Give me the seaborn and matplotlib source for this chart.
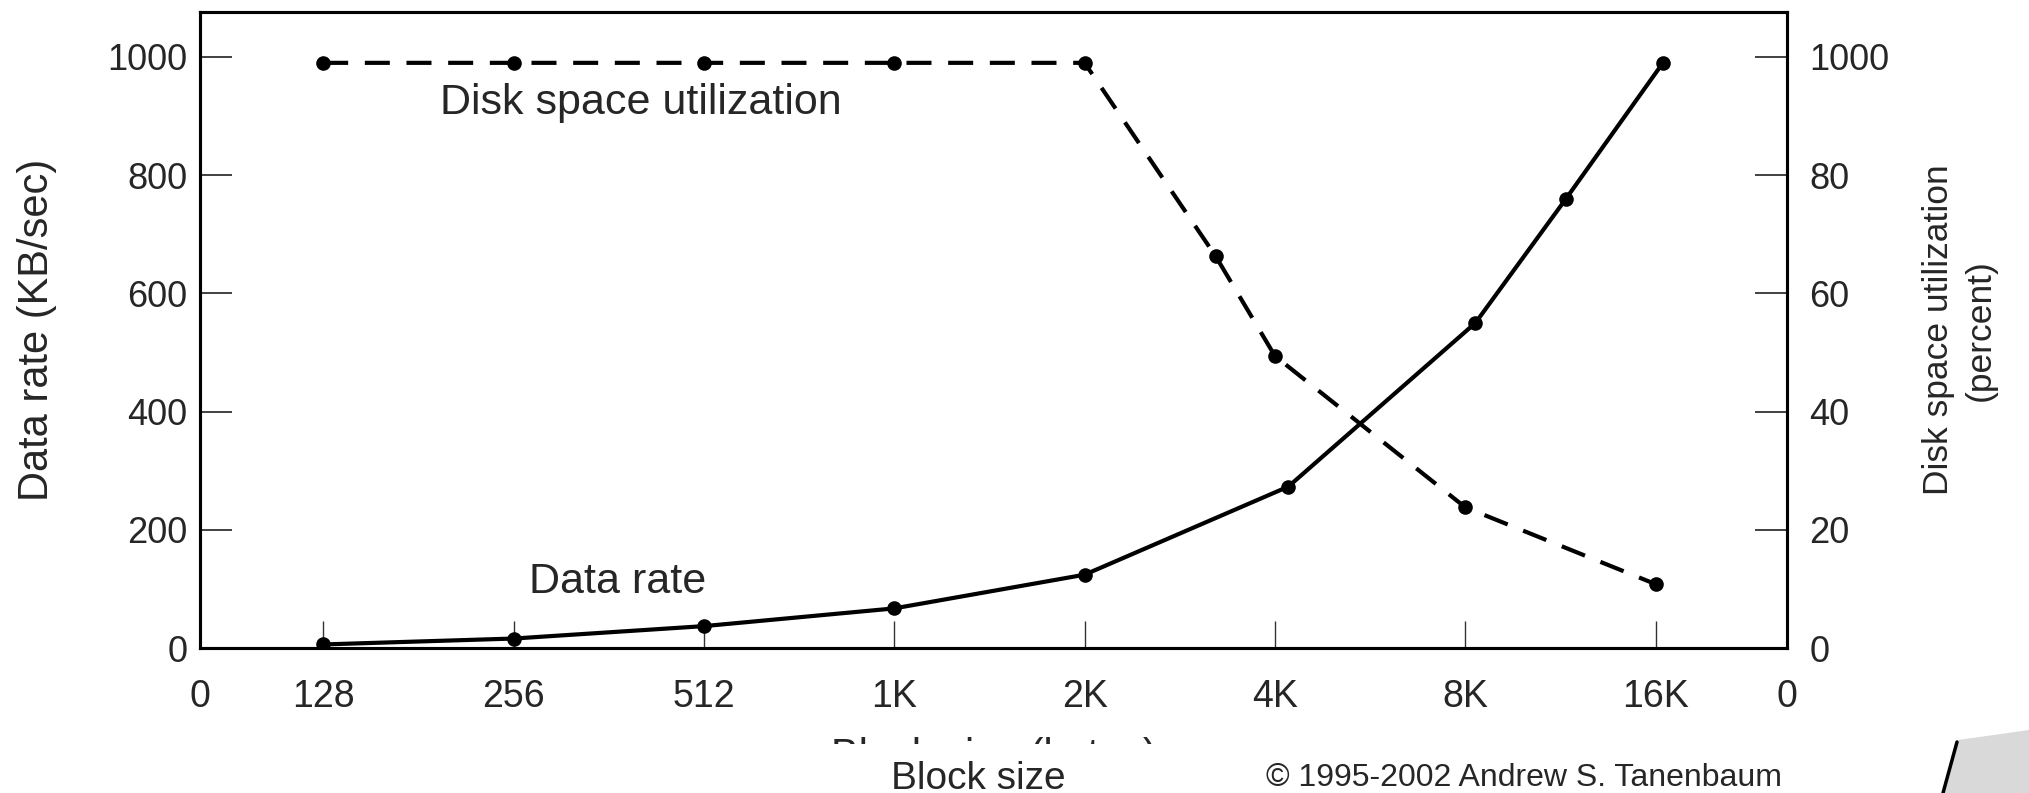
import seaborn as sns
import matplotlib.pyplot as plt
from matplotlib.patches import Polygon
from matplotlib.lines import Line2D
from matplotlib.ticker import NullLocator
from matplotlib.transforms import Bbox, TransformedBbox

# Eje x: tamaño de bloque (bytes), escala log2
tick_sizes = [128, 256, 512, 1024, 2048, 4096, 8192, 16384]
tick_labels = ['128', '256', '512', '1K', '2K', '4K', '8K', '16K']

# Curva "Data rate" (KB/sec)
rate_sizes = [128, 256, 512, 1024, 2048, 4300, 8500, 11800, 16800]
rate_values = [6, 16, 37, 67, 124, 273, 550, 759, 989]

# Curva "Disk space utilization" (percent)
util_sizes = [128, 256, 512, 1024, 2048, 3300, 4096, 8192, 16384]
util_values = [99, 99, 99, 99, 99, 66.3, 49.4, 23.8, 10.8]

left_ticks = [0, 200, 400, 600, 800, 1000]
right_ticks = [0, 20, 40, 60, 80, 100]
right_labels = ['0', '20', '40', '60', '80', '1000']

sns.set_style('white')
plt.rcParams['font.family'] = ['Liberation Sans', 'DejaVu Sans']

W, H = 2029, 793
fig = plt.figure(figsize=(W / 100, H / 100), dpi=100)
ax = fig.add_axes([200 / W, 1 - 648 / H, 1587 / W, 636 / H])

xmin, xmax = 2 ** 6.353, 2 ** 14.69
ax.set_xscale('log', base=2)
ax.set_xlim(xmin, xmax)
ax.set_ylim(0, 1076)

sns.lineplot(x=rate_sizes, y=rate_values, ax=ax, color='black', linewidth=3,
             marker='o', markersize=10.5, markeredgewidth=0)

ax2 = ax.twinx()
sns.lineplot(x=util_sizes, y=util_values, ax=ax2, color='black', linewidth=3,
             marker='o', markersize=10.5, markeredgewidth=0)
ax2.lines[0].set_dashes([6, 4])
ax2.set_xlim(xmin, xmax)
ax2.set_ylim(0, 107.6)

# ticks
ax.set_xticks([xmin] + tick_sizes + [xmax], ['0'] + tick_labels + ['0'])
ax.xaxis.set_minor_locator(NullLocator())
ax.tick_params(axis='x', direction='in', length=19.5, width=1.0, color='#333333',
               pad=22, labelsize=27, bottom=True, top=False)
ax.set_yticks(left_ticks)
ax.tick_params(axis='y', direction='in', length=23, width=1.3, color='#333333',
               pad=9, labelsize=26, left=True)
ax2.set_yticks(right_ticks, right_labels)
ax2.tick_params(axis='y', direction='in', length=23, width=1.3, color='#333333',
                pad=16, labelsize=26, right=True)

for a in (ax, ax2):
    for s in a.spines.values():
        s.set_color('black')
        s.set_linewidth(2.2)
        s.set_visible(True)

ax.set_xlabel('')
ax.set_ylabel('Data rate (KB/sec)', fontsize=30)
ax.yaxis.set_label_coords(-0.090, 0.5)
ax2.set_ylabel('Disk space utilization\n(percent)', fontsize=25.5, linespacing=1.35)
ax2.yaxis.set_label_coords(1.085, 0.5)

ax.text(0.278, 0.857, 'Disk space utilization', transform=ax.transAxes,
        ha='center', va='center', fontsize=31)
ax.text(0.263, 0.104, 'Data rate', transform=ax.transAxes,
        ha='center', va='center', fontsize=31)

# etiqueta del eje x cortada (solo se ve la parte superior)
t = fig.text(0.490, 1 - 737 / H, 'Block size (bytes)', ha='center', va='top', fontsize=30)
t.set_clip_box(TransformedBbox(Bbox([[0, 1 - 744 / H], [1, 1]]), fig.transFigure))
t.set_clip_on(True)

fig.text(0.482, 0.005, 'Block size', ha='center', va='baseline', fontsize=28)
fig.text(0.624, 0.009, '\u00a9 1995-2002 Andrew S. Tanenbaum', ha='left', va='baseline', fontsize=23)

# decoración de la diapositiva (esquina inferior derecha)
fig.patches.append(Polygon([[1958 / W, 1 - 740 / H], [1.0, 1 - 730 / H], [1.0, 0.0], [1944 / W, 0.0]],
                           closed=True, transform=fig.transFigure, facecolor='#d9d9d9', edgecolor='none'))
fig.lines.append(Line2D([1957 / W, 1943 / W], [1 - 742 / H, 0.0], transform=fig.transFigure,
                        color='black', linewidth=2.5))

fig.savefig('out.png', dpi=100)
